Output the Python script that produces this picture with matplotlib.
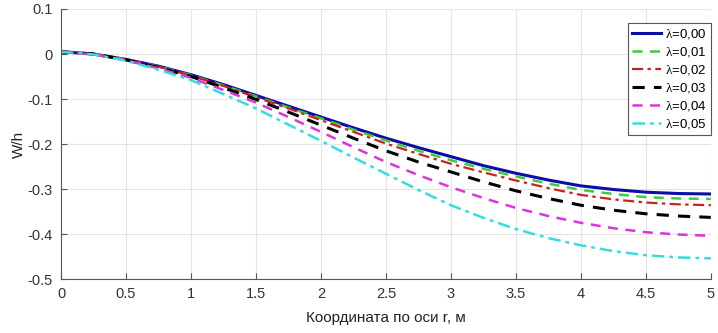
import matplotlib
matplotlib.use("Agg")
import matplotlib.pyplot as plt
from matplotlib import font_manager

r = [0.0, 0.25, 0.5, 0.75, 1.0, 1.25, 1.5, 1.75, 2.0, 2.25, 2.5, 2.75,
     3.0, 3.25, 3.5, 3.75, 4.0, 4.25, 4.5, 4.75, 5.0]

w_000 = [0.005, 0.000, -0.012, -0.027, -0.046, -0.068, -0.092, -0.116, -0.140, -0.164, -0.187, -0.208,
         -0.228, -0.248, -0.265, -0.280, -0.293, -0.301, -0.307, -0.310, -0.311]
w_001 = [0.005, 0.000, -0.012, -0.028, -0.047, -0.070, -0.094, -0.119, -0.143, -0.168, -0.192, -0.215,
         -0.236, -0.255, -0.272, -0.288, -0.302, -0.311, -0.318, -0.321, -0.322]
w_002 = [0.005, 0.000, -0.012, -0.028, -0.048, -0.071, -0.096, -0.121, -0.147, -0.173, -0.199, -0.222,
         -0.244, -0.263, -0.281, -0.298, -0.313, -0.323, -0.330, -0.334, -0.336]
w_003 = [0.005, 0.000, -0.013, -0.030, -0.050, -0.075, -0.101, -0.129, -0.158, -0.187, -0.215, -0.240,
         -0.262, -0.284, -0.304, -0.321, -0.336, -0.347, -0.355, -0.360, -0.363]
w_004 = [0.005, -0.001, -0.014, -0.032, -0.053, -0.080, -0.108, -0.140, -0.173, -0.207, -0.240, -0.269,
         -0.296, -0.320, -0.342, -0.360, -0.375, -0.387, -0.396, -0.401, -0.404]
w_005 = [0.005, -0.001, -0.015, -0.035, -0.058, -0.089, -0.121, -0.157, -0.193, -0.230, -0.266, -0.302,
         -0.336, -0.364, -0.389, -0.409, -0.425, -0.438, -0.447, -0.452, -0.454]

labels = ["$\\lambda$=0,00", "$\\lambda$=0,01", "$\\lambda$=0,02",
          "$\\lambda$=0,03", "$\\lambda$=0,04", "$\\lambda$=0,05"]
series = [w_000, w_001, w_002, w_003, w_004, w_005]
colors = ["#0c0ca8", "#3ccc3c", "#cc2020", "#000000", "#dd33dd", "#33dde0"]
styles = ["-", (0, (4, 3)), (0, (5, 2, 1.5, 2)), (0, (4, 3)), (0, (4, 3)), (0, (5, 2, 1.5, 2))]
widths = [2.2, 1.8, 1.6, 2.2, 1.8, 1.8]

xticks = [0, 0.5, 1, 1.5, 2, 2.5, 3, 3.5, 4, 4.5, 5]
xtick_labels = ["0", "0.5", "1", "1.5", "2", "2.5", "3", "3.5", "4", "4.5", "5"]
yticks = [0.1, 0, -0.1, -0.2, -0.3, -0.4, -0.5]
ytick_labels = ["0.1", "0", "-0.1", "-0.2", "-0.3", "-0.4", "-0.5"]

plt.rcParams["mathtext.fontset"] = "custom"
plt.rcParams["mathtext.rm"] = "Liberation Serif"
plt.rcParams["mathtext.it"] = "Liberation Serif"
plt.rcParams["mathtext.bf"] = "Liberation Serif"

names = {f.name for f in font_manager.fontManager.ttflist}
narrow = "Liberation Sans Narrow" if "Liberation Sans Narrow" in names else "Liberation Sans"

fig = plt.figure(figsize=(7.18, 3.33), dpi=100)
ax = fig.add_axes([0.085, 0.162, 0.905, 0.811])

for y, lab, c, ls, lw in zip(series, labels, colors, styles, widths):
    ax.plot(r, y, color=c, linestyle=ls, linewidth=lw, label=lab)

ax.set_xlim(0, 5)
ax.set_ylim(-0.5, 0.1)
ax.set_xticks(xticks)
ax.set_xticklabels(xtick_labels, fontfamily=narrow, fontsize=10.5, color="#333333")
ax.set_yticks(yticks)
ax.set_yticklabels(ytick_labels, fontfamily="Liberation Sans", fontsize=10.5, color="#333333")
ax.tick_params(direction="in", length=4, color="#555555", pad=6)
ax.grid(True, color="#e4e4e4", linewidth=0.8)
ax.set_axisbelow(True)
for s in ["top", "right"]:
    ax.spines[s].set_visible(False)
for s in ["left", "bottom"]:
    ax.spines[s].set_color("#555555")
    ax.spines[s].set_linewidth(0.8)

ax.set_xlabel("Координата по оси r, м", fontfamily=narrow, fontsize=11, color="#222222", labelpad=7)
ax.set_ylabel("W/h", fontfamily="Liberation Sans", fontsize=11, color="#222222", labelpad=1)

leg = ax.legend(loc="upper right", bbox_to_anchor=(1.0, 0.948),
                prop={"family": "Liberation Sans", "size": 9.5},
                frameon=True, fancybox=False, framealpha=1, edgecolor="#555555",
                handlelength=2.2, handletextpad=0.3, borderpad=0.3, labelspacing=0.3,
                borderaxespad=0.0)
leg.get_frame().set_linewidth(0.8)

fig.savefig("out.png", dpi=100)
